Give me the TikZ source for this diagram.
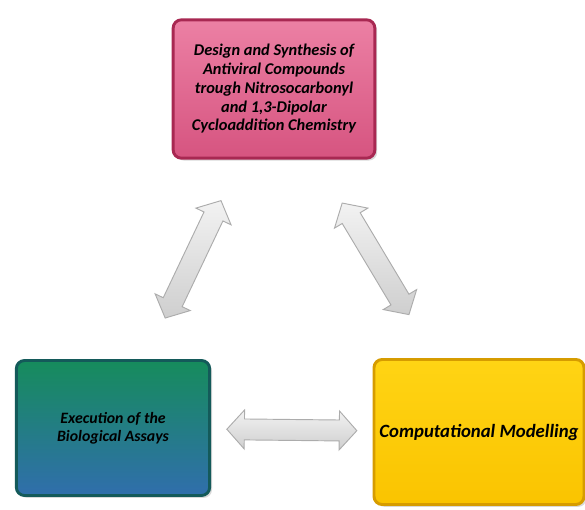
\documentclass[tikz,border=0pt]{standalone}
\usepackage{fontspec}
\setmainfont{Carlito}
\usetikzlibrary{shapes.arrows}
\usetikzlibrary{shadows}

\definecolor{pinktop}{RGB}{236,128,164}
\definecolor{pinkbot}{RGB}{214,84,128}
\definecolor{pinkline}{RGB}{168,40,82}
\definecolor{greentop}{RGB}{22,140,92}
\definecolor{bluebot}{RGB}{48,110,172}
\definecolor{tealline}{RGB}{20,90,90}
\definecolor{yellowtop}{RGB}{255,212,20}
\definecolor{yellowbot}{RGB}{250,196,0}
\definecolor{yellowline}{RGB}{214,156,0}

\begin{document}
\begin{tikzpicture}[x=0.03cm,y=-0.03cm,
        box/.style={rectangle, rounded corners=7pt, line width=2.5pt, align=center,
            drop shadow={opacity=0.3, shadow xshift=2pt, shadow yshift=-2pt}},
        dblarrow/.style={double arrow, draw=gray!65, top color=gray!10, bottom color=gray!38,
            line width=0.8pt, minimum height=3.9cm, inner xsep=0pt, inner ysep=0.3cm,
            double arrow head extend=0.27cm, double arrow tip angle=96}]
        \useasboundingbox (0,0) rectangle (585,510);

        \node[box, draw=pinkline, top color=pinktop, bottom color=pinkbot,
            minimum width=6.05cm, minimum height=4.15cm,
            font=\fontsize{14}{16}\selectfont\bfseries\itshape] (design) at (274,89)
            {Design and Synthesis of\\Antiviral Compounds\\trough Nitrosocarbonyl\\and 1,3-Dipolar\\Cycloaddition Chemistry};
        \node[box, draw=tealline, top color=greentop, bottom color=bluebot,
            minimum width=5.8cm, minimum height=4.05cm,
            font=\fontsize{13.5}{15.5}\selectfont\bfseries\itshape] (assays) at (113,428)
            {Execution of the\\Biological Assays};
        \node[box, draw=yellowline, top color=yellowtop, bottom color=yellowbot,
            minimum width=6.3cm, minimum height=4.35cm,
            font=\fontsize{16}{18}\selectfont\bfseries\itshape] (modelling) at (479,432)
            {Computational Modelling};

        \path (design) -- node[dblarrow, sloped] (arrow_da) {} (assays);
        \path (design) -- node[dblarrow, sloped] (arrow_dm) {} (modelling);
        \path (assays) -- node[dblarrow, sloped] (arrow_am) {} (modelling);
\end{tikzpicture}
\end{document}
